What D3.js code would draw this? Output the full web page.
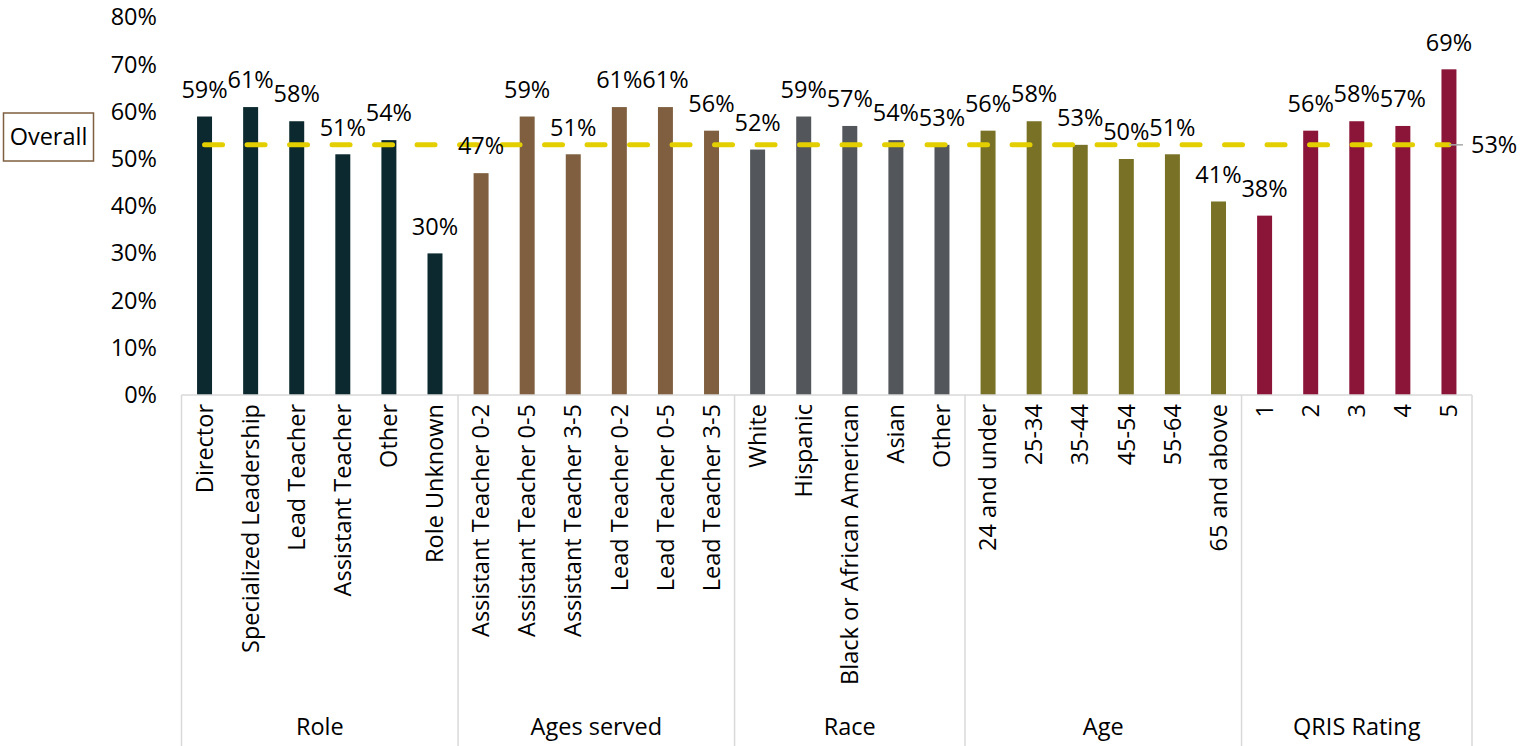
<!DOCTYPE html>
<html>
<head>
<meta charset="utf-8">
<script src="https://cdn.jsdelivr.net/npm/d3@7"></script>
<style>
  html, body { margin: 0; padding: 0; background: #fff; }
  svg { display: block; font-family: "Open Sans", Lato, sans-serif; }
</style>
</head>
<body>
<svg id="chart" width="1539" height="746"></svg>
<script>
// Share of respondents by subgroup, with the overall rate as a reference line
const groupNames = ["Role", "Ages served", "Race", "Age", "QRIS Rating"];

const roleLabels = ["Director", "Specialized Leadership", "Lead Teacher", "Assistant Teacher", "Other", "Role Unknown"];
const roleValues = [59, 61, 58, 51, 54, 30];

const agesServedLabels = ["Assistant Teacher 0-2", "Assistant Teacher 0-5", "Assistant Teacher 3-5", "Lead Teacher 0-2", "Lead Teacher 0-5", "Lead Teacher 3-5"];
const agesServedValues = [47, 59, 51, 61, 61, 56];

const raceLabels = ["White", "Hispanic", "Black or African American", "Asian", "Other"];
const raceValues = [52, 59, 57, 54, 53];

const ageLabels = ["24 and under", "25-34", "35-44", "45-54", "55-64", "65 and above"];
const ageValues = [56, 58, 53, 50, 51, 41];

const qrisLabels = ["1", "2", "3", "4", "5"];
const qrisValues = [38, 56, 58, 57, 69];

const groupColors = ["#0b292e", "#7f5f3f", "#53565a", "#797226", "#8a1538"];

const overallValue = 53;
const yTicks = [0, 10, 20, 30, 40, 50, 60, 70, 80];

// Flatten into one row per bar
const groupLabelLists = [roleLabels, agesServedLabels, raceLabels, ageLabels, qrisLabels];
const groupValueLists = [roleValues, agesServedValues, raceValues, ageValues, qrisValues];
const rows = [];
groupLabelLists.forEach((labels, g) => {
  labels.forEach((lab, i) => rows.push({ key: g + "|" + i, label: lab, value: groupValueLists[g][i], group: g }));
});

const svg = d3.select("#chart");
const plotLeft = 181.5, plotRight = 1472, plotTop = 17.4, plotBottom = 395;
const fontSize = 23.5;
const fontFamily = "'Open Sans', Lato, sans-serif";

const x = d3.scaleBand()
  .domain(rows.map(d => d.key))
  .range([plotLeft, plotRight])
  .paddingInner(0.675)
  .paddingOuter(0.3375);

const y = d3.scaleLinear().domain([0, 80]).range([plotBottom, plotTop]);

// Y axis tick labels (no axis line, no gridlines)
const yAxis = d3.axisLeft(y).tickValues(yTicks).tickFormat(d => d + "%").tickSize(0).tickPadding(0);
const yG = svg.append("g").attr("transform", `translate(157,0)`).call(yAxis);
yG.select(".domain").remove();
yG.selectAll("text").attr("font-size", fontSize).attr("fill", "#000").attr("font-family", fontFamily);

// Bars
svg.append("g").selectAll("rect").data(rows).join("rect")
  .attr("x", d => x(d.key))
  .attr("width", x.bandwidth())
  .attr("y", d => y(d.value))
  .attr("height", d => y(0) - y(d.value))
  .attr("fill", d => groupColors[d.group]);

// Horizontal category axis line
svg.append("line")
  .attr("x1", plotLeft).attr("x2", plotRight)
  .attr("y1", plotBottom).attr("y2", plotBottom)
  .attr("stroke", "#d9d9d9").attr("stroke-width", 1.5);

// Group dividers extending through the label area
const groupStarts = [];
let idx = 0;
groupLabelLists.forEach(l => { groupStarts.push(idx); idx += l.length; });
const step = x.step();
const boundaryX = groupStarts.map(s => plotLeft + s * step).concat([plotRight]);
svg.append("g").selectAll("line").data(boundaryX).join("line")
  .attr("x1", d => d).attr("x2", d => d)
  .attr("y1", plotBottom).attr("y2", 746)
  .attr("stroke", "#d9d9d9").attr("stroke-width", 1.5);

// Rotated category labels
svg.append("g").selectAll("text").data(rows).join("text")
  .attr("transform", d => `translate(${x(d.key) + x.bandwidth() / 2},404) rotate(-90)`)
  .attr("text-anchor", "end")
  .attr("dy", "0.35em")
  .attr("font-size", fontSize)
  .attr("fill", "#000")
  .text(d => d.label);

// Group labels
svg.append("g").selectAll("text").data(groupNames).join("text")
  .attr("x", (d, i) => (boundaryX[i] + boundaryX[i + 1]) / 2)
  .attr("y", 727)
  .attr("dy", "0.35em")
  .attr("text-anchor", "middle")
  .attr("font-size", fontSize)
  .attr("fill", "#000")
  .text(d => d);

// Overall reference line
const firstCenter = x(rows[0].key) + x.bandwidth() / 2;
const lastCenter = x(rows[rows.length - 1].key) + x.bandwidth() / 2;
svg.append("line")
  .attr("x1", firstCenter).attr("x2", lastCenter)
  .attr("y1", y(overallValue)).attr("y2", y(overallValue))
  .attr("stroke", "#e3cf00").attr("stroke-width", 5)
  .attr("stroke-linecap", "round")
  .attr("stroke-dasharray", "18,24.5");

// Value labels above bars
svg.append("g").selectAll("text").data(rows).join("text")
  .attr("x", d => x(d.key) + x.bandwidth() / 2)
  .attr("y", d => y(d.value) - 27)
  .attr("dy", "0.35em")
  .attr("text-anchor", "middle")
  .attr("font-size", fontSize)
  .attr("fill", "#000")
  .text(d => d.value + "%");

// Leader line and label for the overall value
svg.append("line")
  .attr("x1", lastCenter).attr("x2", lastCenter + 14)
  .attr("y1", y(overallValue)).attr("y2", y(overallValue))
  .attr("stroke", "#a6a6a6").attr("stroke-width", 1.5);
svg.append("text")
  .attr("x", lastCenter + 22)
  .attr("y", y(overallValue))
  .attr("dy", "0.35em")
  .attr("font-size", fontSize)
  .attr("fill", "#000")
  .text(overallValue + "%");

// "Overall" callout box
svg.append("rect")
  .attr("x", 3.5).attr("y", 113)
  .attr("width", 90).attr("height", 48)
  .attr("fill", "#fff")
  .attr("stroke", "#7f5f3f").attr("stroke-width", 1.5);
svg.append("text")
  .attr("x", 48.5).attr("y", 137)
  .attr("dy", "0.35em")
  .attr("text-anchor", "middle")
  .attr("font-size", fontSize)
  .attr("fill", "#000")
  .text("Overall");
</script>
</body>
</html>
